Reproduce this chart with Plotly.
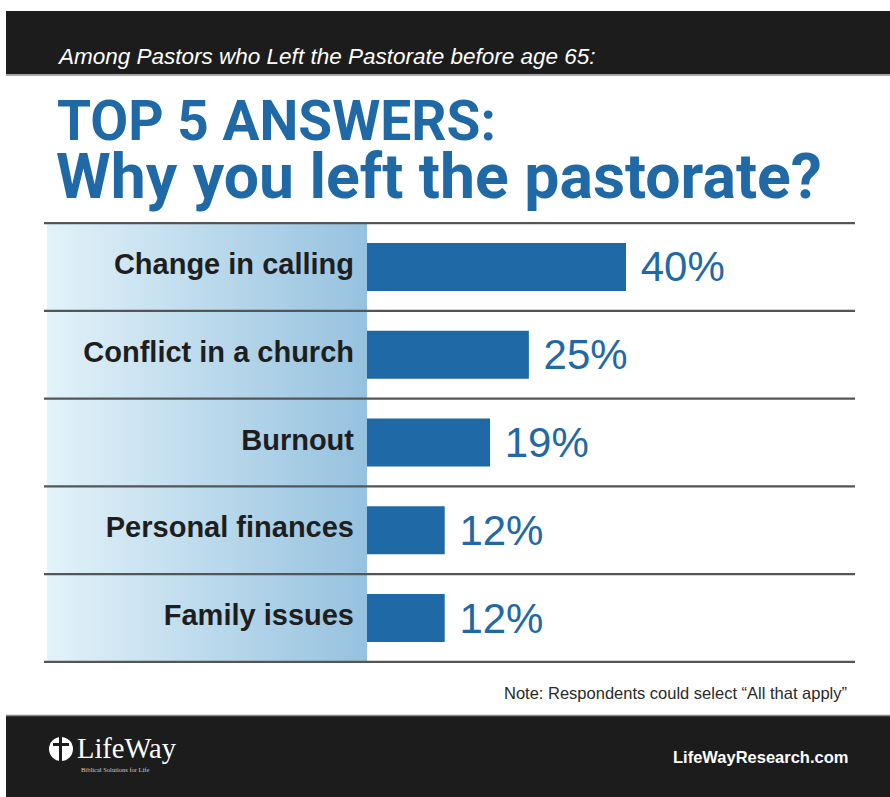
import plotly.graph_objects as go

# ---- data ----
categories = ["Change in calling", "Conflict in a church", "Burnout",
              "Personal finances", "Family issues"]
values = [40, 25, 19, 12, 12]

subtitle = "Among Pastors who Left the Pastorate before age 65:"
title_line1 = "TOP 5 ANSWERS:"
title_line2 = "Why you left the pastorate?"
note = "Note: Respondents could select \u201cAll that apply\u201d"
site = "LifeWayResearch.com"
brand = "LifeWay"
tagline = "Biblical Solutions for Life"

W, H = 890, 797
BLUE = "#1f69a6"


def X(px):
    return px / W


def Y(py):
    return 1 - py / H


fig = go.Figure()

fig.add_trace(go.Bar(
    x=values, y=categories, orientation="h",
    marker=dict(color=BLUE, line=dict(width=0)),
    width=0.545,
    text=[f"{v}%" for v in values],
    texttemplate=" %{text}",
    textposition="outside",
    constraintext="none",
    cliponaxis=False,
    textfont=dict(family="Liberation Sans, Arial, sans-serif", size=42, color=BLUE),
    hoverinfo="skip",
))

shapes = []
# top and bottom dark bands
shapes.append(dict(type="rect", xref="paper", yref="paper", x0=X(6), x1=X(890),
                   y0=Y(74), y1=Y(11), fillcolor="#1c1c1c", line=dict(width=0), layer="below"))
shapes.append(dict(type="line", xref="paper", yref="paper", x0=X(6), x1=X(890),
                   y0=Y(75), y1=Y(75), line=dict(color="#8a8a8a", width=1.5)))
shapes.append(dict(type="rect", xref="paper", yref="paper", x0=X(6), x1=X(890),
                   y0=Y(797), y1=Y(716), fillcolor="#1c1c1c", line=dict(width=0), layer="below"))
shapes.append(dict(type="line", xref="paper", yref="paper", x0=X(6), x1=X(890),
                   y0=Y(715.5), y1=Y(715.5), line=dict(color="#8a8a8a", width=1.5)))

# gradient panel behind labels (vertical stripes)
n = 80
x_left, x_right = 47, 367
c0 = (226, 242, 249)
c1 = (150, 194, 223)
for i in range(n):
    t = i / (n - 1)
    col = tuple(int(round(c0[k] + (c1[k] - c0[k]) * t)) for k in range(3))
    xa = x_left + (x_right - x_left) * i / n
    xb = x_left + (x_right - x_left) * (i + 1) / n + 0.6
    shapes.append(dict(type="rect", xref="paper", yref="paper", x0=X(xa), x1=X(min(xb, x_right)),
                       y0=Y(662), y1=Y(223), fillcolor="rgb(%d,%d,%d)" % col,
                       line=dict(width=0), layer="below"))

# separators between rows (in category coordinates)
for i in range(len(categories) + 1):
    yv = i - 0.5
    shapes.append(dict(type="line", xref="paper", yref="y", x0=X(44), x1=X(855),
                       y0=yv, y1=yv, line=dict(color="#555555", width=2.2)))

# logo mark: white disc with dark cross
shapes.append(dict(type="circle", xref="paper", yref="paper", x0=X(49), x1=X(73),
                   y0=Y(761), y1=Y(737), fillcolor="white", line=dict(width=0)))
shapes.append(dict(type="rect", xref="paper", yref="paper", x0=X(59), x1=X(62),
                   y0=Y(761), y1=Y(737), fillcolor="#1c1c1c", line=dict(width=0)))
shapes.append(dict(type="rect", xref="paper", yref="paper", x0=X(53), x1=X(69),
                   y0=Y(746), y1=Y(743), fillcolor="#1c1c1c", line=dict(width=0)))

annotations = [
    dict(text=subtitle, x=X(55), y=Y(56), xanchor="left", yanchor="middle",
         font=dict(family="Liberation Sans, Arial, sans-serif", size=22.5, color="white", style="italic")),
    dict(text=title_line1, x=X(55), y=Y(121), xanchor="left", yanchor="middle",
         font=dict(family="Roboto, Liberation Sans, sans-serif", size=55, color=BLUE, weight="bold")),
    dict(text=title_line2, x=X(54), y=Y(177), xanchor="left", yanchor="middle",
         font=dict(family="Roboto, Liberation Sans, sans-serif", size=62.5, color=BLUE, weight="bold")),
    dict(text=note, x=X(849), y=Y(693), xanchor="right", yanchor="middle",
         font=dict(family="Liberation Sans, Arial, sans-serif", size=16.5, color="#2a2a2a")),
    dict(text=brand, x=X(75), y=Y(748), xanchor="left", yanchor="middle",
         font=dict(family="Liberation Serif, DejaVu Serif, serif", size=28.5, color="white")),
    dict(text=tagline, x=X(79), y=Y(769), xanchor="left", yanchor="middle",
         font=dict(family="Liberation Serif, serif", size=6.5, color="#cccccc")),
    dict(text=site, x=X(850), y=Y(757), xanchor="right", yanchor="middle",
         font=dict(family="Liberation Sans, Arial, sans-serif", size=16.5, color="white", weight="bold")),
]
for a in annotations:
    a.update(xref="paper", yref="paper", showarrow=False)

px_per_pct = 6.475
fig.update_layout(
    width=W, height=H,
    margin=dict(l=0, r=0, t=0, b=0),
    paper_bgcolor="white", plot_bgcolor="rgba(0,0,0,0)",
    showlegend=False,
    shapes=shapes,
    annotations=annotations,
    xaxis=dict(domain=[X(367), 1.0], range=[0, (W - 367) / px_per_pct],
               visible=False, fixedrange=True),
    yaxis=dict(domain=[Y(663), Y(222)], categoryorder="array", categoryarray=categories,
               autorange="reversed", showgrid=False, zeroline=False, showline=False,
               ticks="", ticklabelstandoff=12, ticklabelshift=3,
               tickfont=dict(family="Liberation Sans, Arial, sans-serif", size=29,
                             color="#1e1e1e", weight="bold"),
               fixedrange=True),
)

fig.write_html("out.html", config={"displayModeBar": False},
               post_script="document.body.style.margin='0px';document.body.style.overflow='hidden';")
